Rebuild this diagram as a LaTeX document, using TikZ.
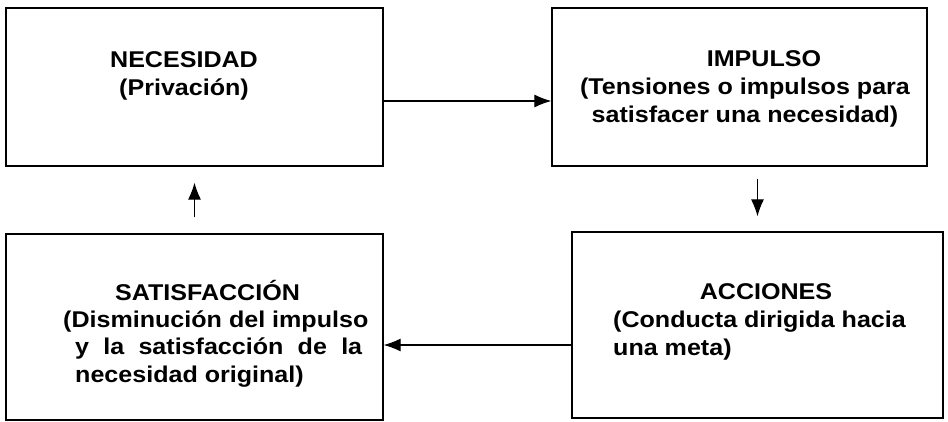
\documentclass[tikz,border=0pt]{standalone}
\usepackage{fontspec}
\setmainfont{Liberation Sans}[FakeStretch=1.1]
\usetikzlibrary{arrows.meta}

\begin{document}
\begin{tikzpicture}[x=1pt,y=-1pt,
    caja/.style={draw,line width=1.3pt,inner sep=0pt},
    texto/.style={inner sep=0pt,font=\fontsize{22.8}{27.5}\selectfont\bfseries},
    flecha/.style={line width=1.1pt,-{Latex[length=17pt,width=13pt]}}]
    \useasboundingbox (0,0) rectangle (948,421);% Same frame as the reference

    % The four boxes of the cycle
    \node[caja,minimum width=377pt,minimum height=158pt] (Necesidad)    at (194.5,87) {};
    \node[caja,minimum width=375pt,minimum height=158pt] (Impulso)      at (739.5,87) {};
    \node[caja,minimum width=371pt,minimum height=186pt] (Acciones)     at (757.5,325) {};
    \node[caja,minimum width=377pt,minimum height=186pt] (Satisfaccion) at (194.5,327) {};

    % Texts, placed by the baseline of their last line
    \node[texto,anchor=base,align=center] (NecesidadT) at (184,95)
        {NECESIDAD\\(Privación)};
    \node[texto,anchor=base] (ImpulsoT) at (764,66) {IMPULSO};
    \node[texto,anchor=base,align=center] (ImpulsoB) at (745,122)
        {(Tensiones o impulsos para\\satisfacer una necesidad)};
    \node[texto,anchor=base] (AccionesT) at (766,299) {ACCIONES};
    \node[texto,anchor=base west,align=left] (AccionesB) at (613,355)
        {(Conducta dirigida hacia\\una meta)};
    \node[texto,anchor=base] (SatisfaccionT) at (207.5,300) {SATISFACCIÓN};
    \node[texto,anchor=base west,align=left] (SatisfaccionB) at (63,382)
        {(Disminución del impulso\\
         \hspace*{12pt}\makebox[287pt][s]{y la satisfacción de la}\\
         \hspace*{12pt}necesidad original)};

    % Connectors
    \draw[flecha] ([yshift=-14pt]Necesidad.east)
        -- ([yshift=-14pt]Necesidad.east -| Impulso.west);
    \draw[flecha,shorten <=12pt,shorten >=15pt] (Impulso.south -| Acciones.north)
        -- (Acciones.north);
    \draw[flecha] ([yshift=-20pt]Acciones.west)
        -- ([yshift=-20pt]Acciones.west -| Satisfaccion.east);
    \draw[flecha,shorten <=16pt,shorten >=16pt] (Satisfaccion.north)
        -- (Necesidad.south);
\end{tikzpicture}
\end{document}
